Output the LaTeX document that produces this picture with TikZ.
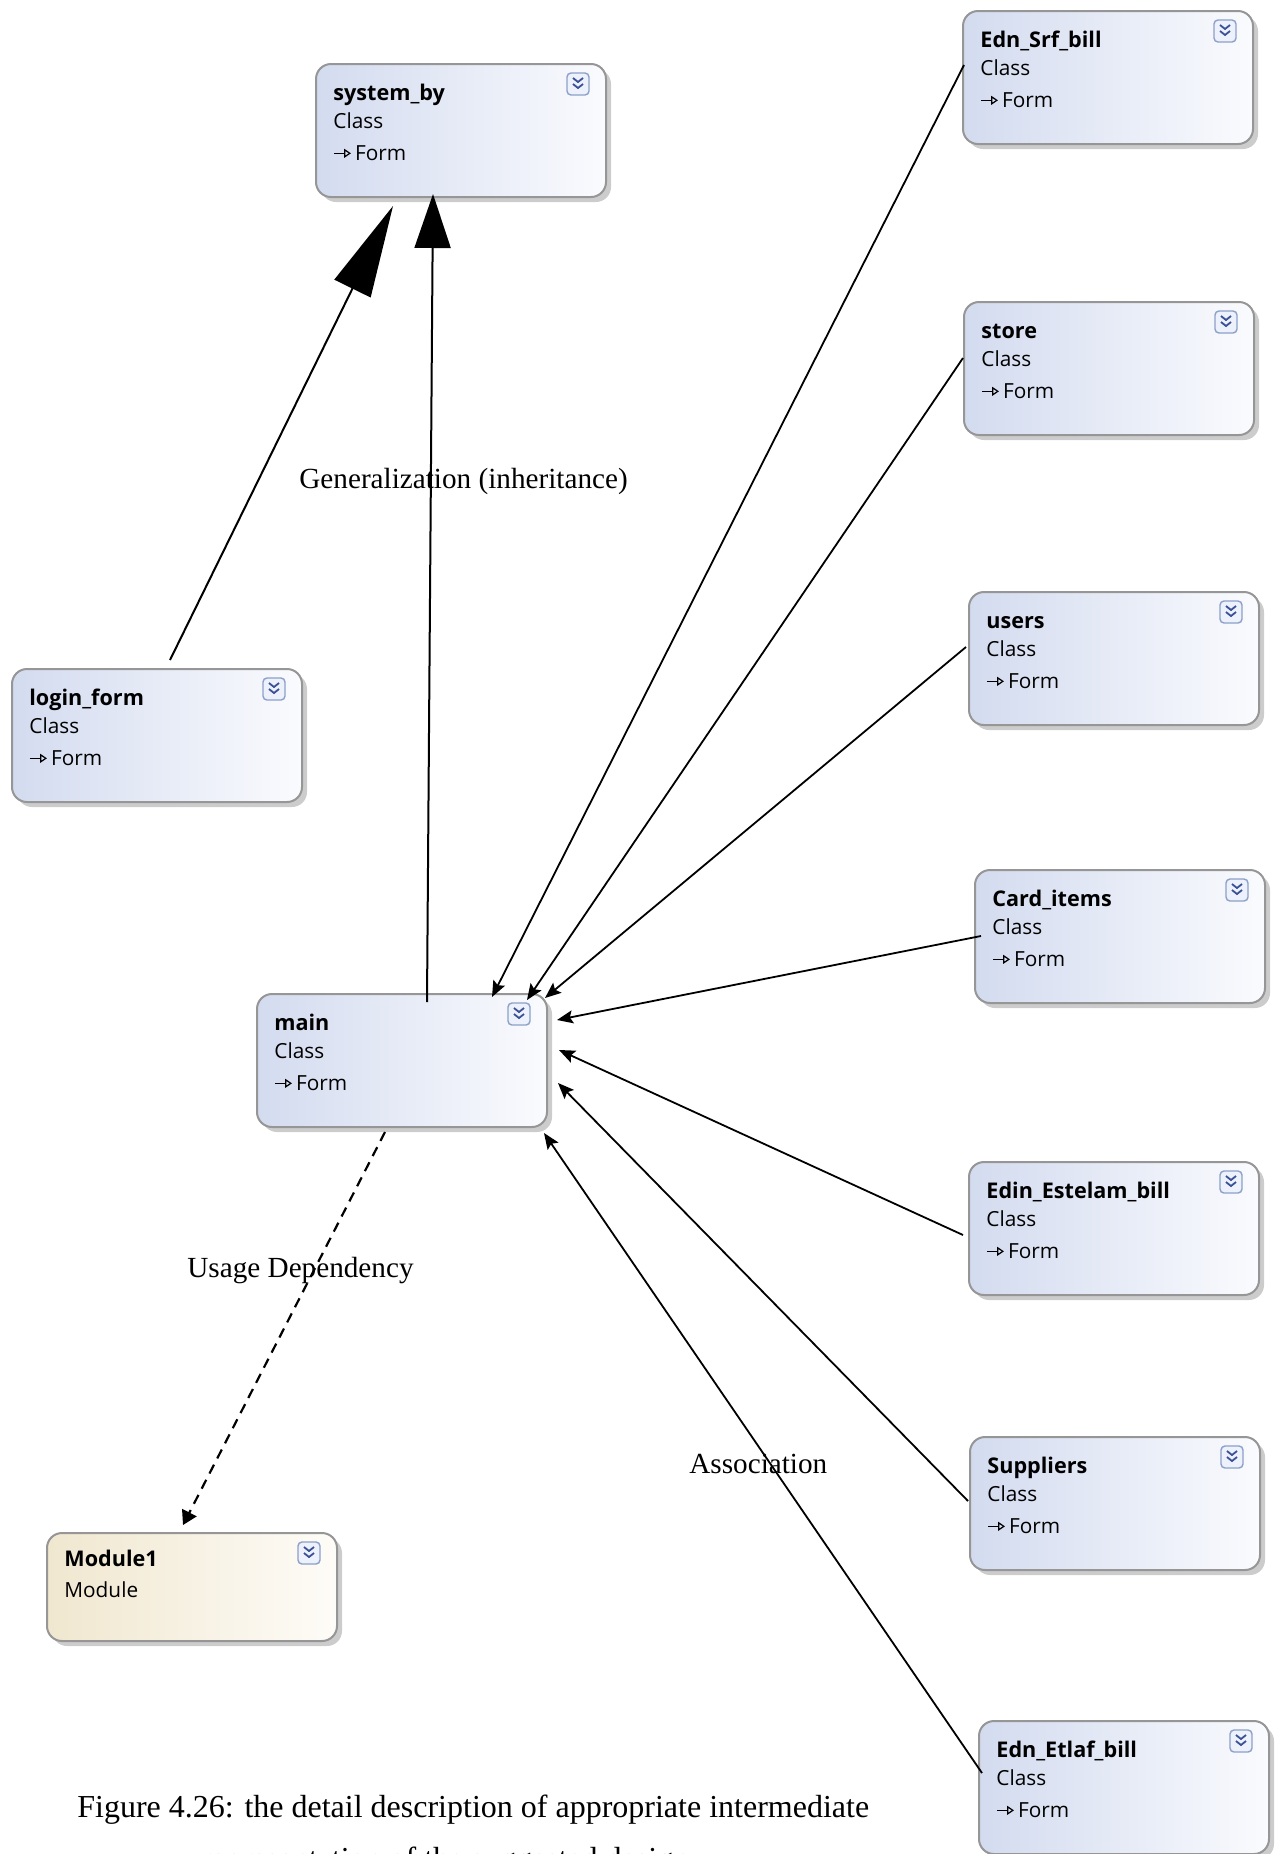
\documentclass[tikz,border=0pt]{standalone}
\usepackage{fontspec}
\setmainfont{Liberation Serif}
\newfontfamily\uifont{Open Sans}
\usetikzlibrary{arrows.meta,calc,shadows}

\definecolor{umlframe}{RGB}{150,150,150}
\definecolor{classleft}{RGB}{211,219,239}
\definecolor{classright}{RGB}{250,251,254}
\definecolor{moduleleft}{RGB}{240,231,207}
\definecolor{moduleright}{RGB}{254,252,248}
\definecolor{iconedge}{RGB}{140,160,200}
\definecolor{iconfill}{RGB}{236,241,251}
\definecolor{iconblue}{RGB}{60,82,150}

\newcommand{\basearrow}{\tikz[baseline=-0.6ex, x=1pt, y=1pt]\draw[line width=0.6pt, -{Triangle[open, length=3.4pt, width=4.4pt]}] (0,0) -- (8.5,0);}

\newcommand{\expander}[1]{%
  \draw[iconframe] ($(#1.north east)+(-40,10)$) rectangle ($(#1.north east)+(-18,32)$);
  \draw[iconmark] ($(#1.north east)+(-34,15)$) -- ++(5,4) -- ++(5,-4);
  \draw[iconmark] ($(#1.north east)+(-34,21)$) -- ++(5,4) -- ++(5,-4);}

\newcommand{\umlclass}[3]{%
  \node[classbox] (#1) at (#2) {};
  \node[boxtitle] (#1-title) at ($(#1.north west)+(18,37)$) {#3};
  \node[boxtext] (#1-kind) at ($(#1.north west)+(18,65)$) {Class};
  \node[boxtext] (#1-form) at ($(#1.north west)+(18,97)$) {\basearrow\,Form};
  \expander{#1}}

\begin{document}
\begin{tikzpicture}[x=0.5pt,y=-0.5pt,
  umlbox/.style={draw=umlframe, line width=1pt, rounded corners=7.5pt, anchor=north west,
    minimum width=145pt, minimum height=66.5pt, inner sep=0pt,
    drop shadow={shadow xshift=2.5pt, shadow yshift=-2.5pt, fill=black!40, opacity=0.5}},
  classbox/.style={umlbox, left color=classleft, right color=classright},
  modulebox/.style={umlbox, minimum height=54pt, left color=moduleleft, right color=moduleright},
  boxtitle/.style={anchor=base west, inner sep=0pt, font=\uifont\fontsize{10.8}{13}\selectfont\bfseries},
  boxtext/.style={anchor=base west, inner sep=0pt, font=\uifont\fontsize{10.4}{13}\selectfont},
  iconframe/.style={draw=iconedge, fill=iconfill, line width=0.7pt, rounded corners=2pt},
  iconmark/.style={draw=iconblue, line width=0.9pt},
  assoc/.style={line width=0.9pt, -{Stealth[length=8pt, width=6.5pt, inset=1.5pt]}},
  inherit/.style={line width=1pt, -{Triangle[length=27pt, width=18pt]}},
  usage/.style={line width=1.1pt, dash pattern=on 5pt off 3.5pt, -{Triangle[length=7pt, width=8pt]}},
  edgelabel/.style={anchor=base west, inner sep=0pt, font=\fontsize{14.6}{17}\selectfont},
  caption/.style={anchor=base west, inner sep=0pt, font=\fontsize{16}{19}\selectfont}]
\useasboundingbox (0,0) rectangle (1279,1854);

\umlclass{sysby}{315,63}{system\_by}
\umlclass{login}{11,668}{login\_form}
\umlclass{main}{256,993}{main}
\umlclass{srf}{962,10}{Edn\_Srf\_bill}
\umlclass{store}{963,301}{store}
\umlclass{users}{968,591}{users}
\umlclass{card}{974,869}{Card\_items}
\umlclass{estelam}{968,1161}{Edin\_Estelam\_bill}
\umlclass{suppliers}{969,1436}{Suppliers}
\umlclass{etlaf}{978,1720}{Edn\_Etlaf\_bill}

\node[modulebox] (mod) at (46,1532) {};
\node[boxtitle] (mod-title) at ($(mod.north west)+(18,34)$) {Module1};
\node[boxtext] (mod-kind) at ($(mod.north west)+(18,65)$) {Module};
\expander{mod}

\node[edgelabel] (genlabel) at (299,488) {Generalization (inheritance)};
\node[edgelabel] (uselabel) at (187,1277) {Usage Dependency};
\node[edgelabel] (asclabel) at (689,1473) {Association};

\draw[inherit, -{Triangle[length=46pt, width=20pt]}] ($(login.north)+(13,-8)$) -- ($(sysby.south west)+(78,8)$);
\draw[inherit] ($(main.north west)+(171,9)$) -- ($(sysby.south west)+(118,-4)$);

\draw[assoc] ($(srf.north west)+(2,55)$) -- ($(main.north east)+(-56,4)$);
\draw[assoc] ($(store.north west)+(0,57)$) -- ($(main.north east)+(-21,7)$);
\draw[assoc] ($(users.north west)+(-2,56)$) -- ($(main.north east)+(-3,5)$);
\draw[assoc] ($(card.north west)+(7,67)$) -- ($(main.north east)+(9,27)$);
\draw[assoc] ($(estelam.north west)+(-5,74)$) -- ($(main.north east)+(11,57)$);
\draw[assoc] ($(suppliers.north west)+(-1,65)$) -- ($(main.north east)+(10,90)$);
\draw[assoc] ($(etlaf.north west)+(4,53)$) -- ($(main.north east)+(-4,140)$);

\draw[usage] ($(main.south west)+(129,4)$) -- ($(mod.north west)+(137,-7)$);

\node[caption] (cap1) at (77,1817) {Figure 4.26: the detail description of appropriate intermediate};
\node[caption] (cap2) at (200,1869) {representation of the suggested design};
\end{tikzpicture}
\end{document}
